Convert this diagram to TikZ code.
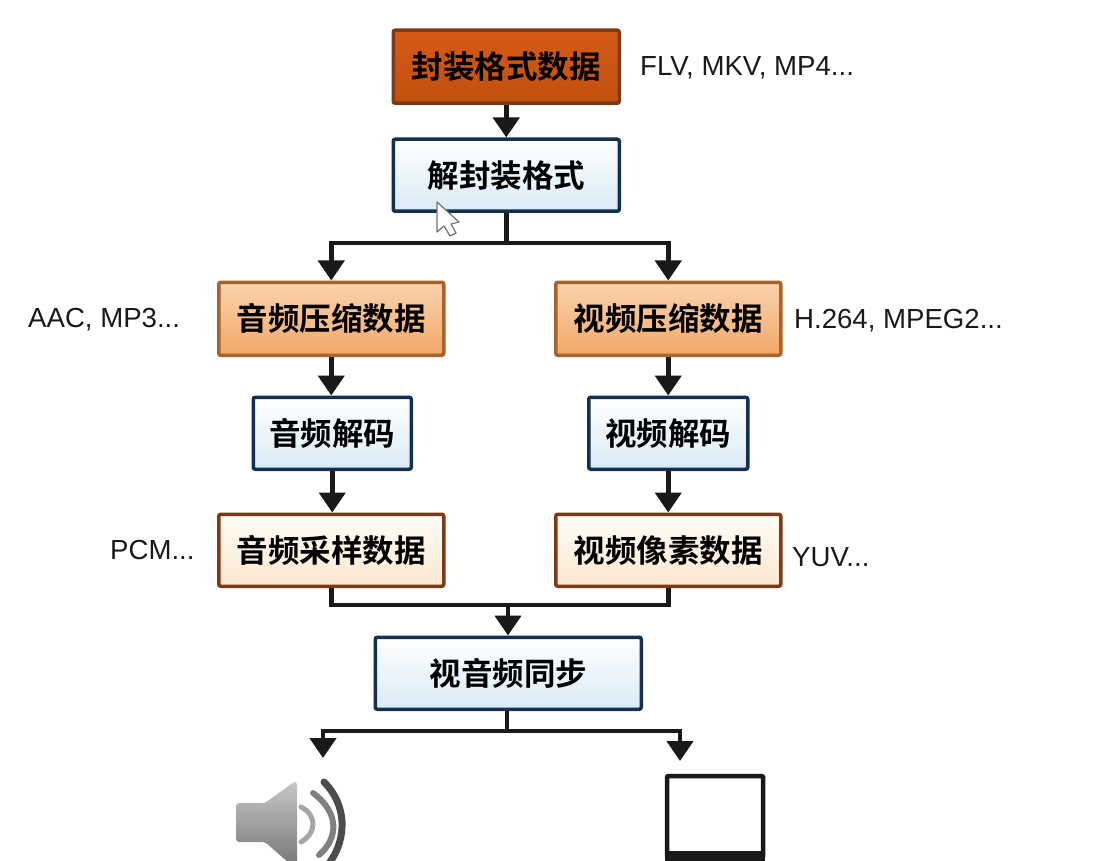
\documentclass[tikz,border=0pt]{standalone}
\usepackage{fontspec}
\setmainfont{Liberation Sans}
\newfontfamily\cjk{Noto Sans CJK SC Bold}[BoldFont={Noto Sans CJK SC Bold}]
\usetikzlibrary{arrows.meta,calc}
\definecolor{navy}{HTML}{14304F}
\definecolor{rust}{HTML}{7E3A14}
\definecolor{tan}{HTML}{A9622A}
\definecolor{topA}{HTML}{D55A16}
\definecolor{topB}{HTML}{C2500F}
\definecolor{procB}{HTML}{D9EAF7}
\definecolor{compA}{HTML}{F9D3AE}
\definecolor{compB}{HTML}{F2A868}
\definecolor{rawA}{HTML}{FFFDF8}
\definecolor{rawB}{HTML}{FBE8CF}
\tikzset{
  x=1pt,y=-1pt,
  base/.style={rounded corners=2pt,line width=3.5pt,inner sep=0pt,anchor=north west,
    font=\cjk\fontsize{31.5}{33}\selectfont,text=black},
  topbox/.style={base,draw=rust,top color=topA,bottom color=topB,
    minimum width=226pt,minimum height=73pt},
  procbox/.style={base,draw=navy,top color=white,bottom color=procB},
  compbox/.style={base,draw=tan,top color=compA,bottom color=compB,
    minimum width=225pt,minimum height=73pt},
  rawbox/.style={base,draw=rust,top color=rawA,bottom color=rawB,
    minimum width=225pt,minimum height=72pt},
  lab/.style={font=\fontsize{27.6}{30}\selectfont,text=black!90,inner sep=0pt,anchor=west},
  flow/.style={line width=4.5pt,draw=black!90},
  arrow/.style={flow,-{Triangle[length=20pt,width=26pt]}},
}
\begin{document}
\begin{tikzpicture}
\useasboundingbox (0,0) rectangle (1098,861);
\clip (0,0) rectangle (1098,861);
\node[topbox] (mux) at (391.5,28.5) {封装格式数据};
\node[procbox,minimum width=226pt,minimum height=72pt] (demux) at (391.5,137.5) {解封装格式};
\node[compbox] (acomp) at (217,280.5) {音频压缩数据};
\node[compbox] (vcomp) at (554,280.5) {视频压缩数据};
\node[procbox,minimum width=158pt,minimum height=72pt] (adec) at (251.5,395.5) {音频解码};
\node[procbox,minimum width=159pt,minimum height=72pt] (vdec) at (587,395.5) {视频解码};
\node[rawbox] (araw) at (217,512.5) {音频采样数据};
\node[rawbox] (vraw) at (554,512.5) {视频像素数据};
\node[procbox,minimum width=266pt,minimum height=72pt] (sync) at (373.5,635.5) {视音频同步};

\node[lab] (l1) at (640,68) {FLV, MKV, MP4...};
\node[lab] (l2) at (28,320) {AAC, MP3...};
\node[lab] (l3) at (794,321) {H.264, MPEG2...};
\node[lab] (l4) at (110,550) {PCM...};
\node[lab] (l5) at (792,557) {YUV...};

\coordinate (split) at (demux.south|-0,243);
\coordinate (merge) at (508,605);
\coordinate (out) at (507,731);
\coordinate (spk) at (323,758);
\coordinate (mon) at (680,761);

\draw[arrow] (mux.south) -- (demux.north);
\draw[flow] (demux.south) -- (split);
\draw[arrow] (split) -| (acomp.north);
\draw[arrow] (split) -| (vcomp.north);
\draw[arrow] (acomp.south) -- (acomp.south|-adec.north);
\draw[arrow] (vcomp.south) -- (vcomp.south|-vdec.north);
\draw[arrow] (adec.south) -- (adec.south|-araw.north);
\draw[arrow] (vdec.south) -- (vdec.south|-vraw.north);
\draw[flow] (araw.south) |- (merge);
\draw[flow] (vraw.south) |- (merge);
\draw[arrow] (merge) -- (merge|-sync.north);
\draw[flow] (out|-sync.south) -- (out);
\draw[arrow] (out) -| (spk);
\draw[arrow] (out) -| (mon);

% cursor
\draw[fill=white,draw=black!55,line width=1.2pt,line join=round]
  (437,202) -- (437,232) -- (444,226) -- (450,236) -- (456,233) -- (451,224) -- (459,222) -- cycle;

% speaker
\path[top color=black!22,bottom color=black!55,rounded corners=3pt]
  (236,803) -- (265,803) -- (294,782) -- (297,782) -- (297,870) -- (265,842) -- (236,842) -- cycle;
\draw[black!35,line width=5pt,line cap=round] (301,807) .. controls (317,815) and (317,833) .. (301,842);
\draw[black!50,line width=6pt,line cap=round] (313,793) .. controls (339,812) and (339,838) .. (319,855);
\draw[black!70,line width=7pt,line cap=round] (324,782) .. controls (347,805) and (347,838) .. (330,862);

% monitor
\draw[black!90,line width=4.5pt,fill=white,rounded corners=1pt] (667,776) rectangle (763,857);
\fill[black!90] (665,851) rectangle (765,861);
\end{tikzpicture}
\end{document}
